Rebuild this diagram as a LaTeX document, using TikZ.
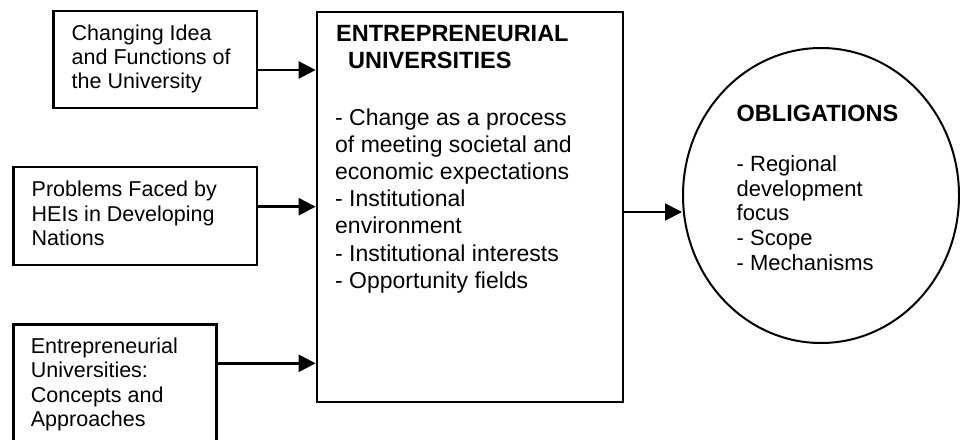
\documentclass[tikz,border=0pt]{standalone}
\usepackage{fontspec}
\setmainfont{Liberation Sans}
\usetikzlibrary{arrows.meta,shapes.geometric}
\begin{document}
\begin{tikzpicture}[x=1pt,y=-1pt,
  boxst/.style={draw=black, line width=2.7pt, rectangle, inner sep=0pt},
  ovalst/.style={draw=black, line width=2pt, ellipse, inner sep=0pt},
  arr/.style={line width=2.6pt, -{Triangle[length=17pt,width=17pt]}},
  arrthin/.style={line width=1.8pt, -{Triangle[length=17pt,width=17pt]}},
  sidetxt/.style={font=\fontsize{21.5}{24.4}\selectfont, align=left, anchor=base west, inner sep=0pt},
  headtxt/.style={font=\bfseries\fontsize{23.5}{26.6}\selectfont, align=left, anchor=base west, inner sep=0pt},
  bodytxt/.style={font=\fontsize{23}{27.2}\selectfont, align=left, anchor=base west, inner sep=0pt},
  obltxt/.style={font=\fontsize{22}{24.6}\selectfont, align=left, anchor=base west, inner sep=0pt}]
\useasboundingbox (0,0) rectangle (960,439);
\fill[white] (0,0) rectangle (960,439);
\clip (0,0) rectangle (960,439);

% boxes
\node[boxst, minimum width=203.5pt, minimum height=97pt] (b1) at (155.25,59.5) {};
\node[boxst, minimum width=243.5pt, minimum height=98pt] (b2) at (135.25,216) {};
\node[boxst, minimum width=203pt, minimum height=130pt] (b3) at (115,389.5) {};
\node[boxst, minimum width=306pt, minimum height=390pt] (main) at (470,207) {};
\node[ovalst, minimum width=276pt, minimum height=295pt] (obl) at (821,195.5) {};

% texts (anchor = baseline of the last line)
\node[sidetxt] (t1) at (71.5,88.8) {Changing Idea\\and Functions of\\the University};
\node[sidetxt] (t2) at (31.5,245.5) {Problems Faced by\\HEIs in Developing\\Nations};
\node[sidetxt] (t3) at (30.7,426.5) {Entrepreneurial\\Universities:\\Concepts and\\Approaches};
\node[headtxt] (th) at (336,68.3) {ENTREPRENEURIAL\\\hspace*{12pt}UNIVERSITIES};
\node[bodytxt] (tb) at (335,288.2) {- Change as a process\\of meeting societal and\\economic expectations\\- Institutional\\environment\\- Institutional interests\\- Opportunity fields};
\node[headtxt] (oh) at (736.5,121.7) {OBLIGATIONS};
\node[obltxt] (ob) at (736.5,270.1) {- Regional\\development\\focus\\- Scope\\- Mechanisms};

% connectors
\draw[arr] ([yshift=-10.5pt]b1.east) -- ([yshift=-10.5pt]b1.east -| main.west);
\draw[arr] ([yshift=9.3pt]b2.east) -- ([yshift=9.3pt]b2.east -| main.west);
\draw[arr] ([yshift=26.2pt]b3.east) -- ([yshift=26.2pt]b3.east -| main.west);
\draw[arrthin] ([yshift=-5pt]main.east) -- ([yshift=-5pt]main.east -| obl.west);
\end{tikzpicture}
\end{document}
